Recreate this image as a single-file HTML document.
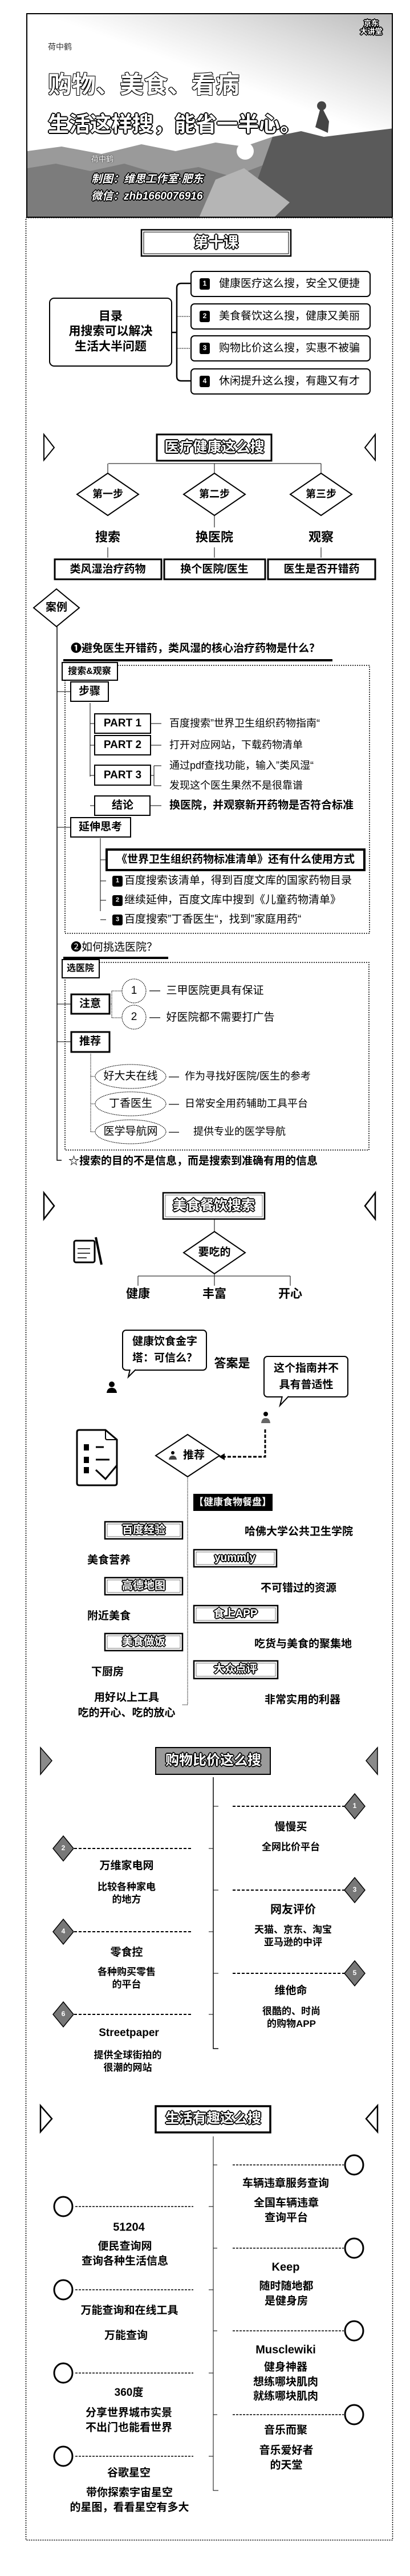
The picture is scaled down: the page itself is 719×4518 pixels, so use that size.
<!DOCTYPE html>
<html><head><meta charset="utf-8">
<style>
*{margin:0;padding:0;box-sizing:border-box}
body{width:719px;height:4518px;background:#fff;position:relative;overflow:hidden;font-family:"Liberation Sans","Noto Sans CJK SC",sans-serif;color:#000}
.c{position:absolute;transform:translate(-50%,-50%);white-space:nowrap;line-height:1.15;text-align:center}
.l{position:absolute;transform:translateY(-50%);white-space:nowrap;line-height:1.15}
.b{font-weight:bold}
.o{color:#fff;font-weight:bold;text-shadow:-1px -1px 0 #000,1px -1px 0 #000,-1px 1px 0 #000,1px 1px 0 #000,2px 0 0 #000,-2px 0 0 #000,0 2px 0 #000,0 -2px 0 #000}
.ob{color:#000;font-weight:bold;text-shadow:-1px -1px 0 #fff,1px -1px 0 #fff,-1px 1px 0 #fff,1px 1px 0 #fff}
svg{position:absolute;left:0;top:0}
</style></head><body>

<!-- banner -->
<div style="position:absolute;left:46px;top:23px;width:643px;height:359px;border:2px solid #000;overflow:hidden;background:linear-gradient(200deg,#bbb 0%,#ddd 18%,#fff 38%,#fff 100%)">
 <svg width="643" height="359" style="position:absolute;left:0;top:0">
  <polygon points="0,240 60,232 130,245 200,228 260,240 330,225 380,232 430,215 500,225 560,210 643,205 643,359 0,359" fill="#9a9a9a"/>
  <polygon points="0,270 50,262 110,275 170,262 230,280 300,268 360,285 420,262 643,250 643,359 0,359" fill="#7c7c7c"/>
  <polygon points="430,215 480,205 520,215 560,210 643,200 643,359 380,359 400,300" fill="#5a5a5a"/>
  <polygon points="330,290 380,270 420,300 460,330 430,359 300,359" fill="#b5b5b5"/>
  <circle cx="382" cy="240" r="15" fill="#fff"/>
  <path d="M505,198 l8,-30 a8,8 0 1,1 6,0 l10,20 l-2,20 z" fill="#444"/>
 </svg>
 <div class="l" style="left:36px;top:57px;font-size:14px;color:#333">荷中鹤</div>
 <div class="l" style="left:36px;top:124px;font-size:42px;font-weight:bold;color:#fff;text-shadow:-1px -1px 0 #000,1px 1px 0 #000,1px -1px 0 #000,-1px 1px 0 #000">购物、美食、看病</div>
 <div class="l o" style="left:36px;top:194px;font-size:37px">生活这样搜，能省一半心。</div>
 <div class="l" style="left:112px;top:255px;font-size:13px;color:#fff;text-shadow:0 0 2px #000">荷中鹤</div>
 <div class="l o" style="left:112px;top:290px;font-size:19px;font-style:italic">制图：维思工作室·肥东</div>
 <div class="l o" style="left:112px;top:320px;font-size:19px;font-style:italic">微信：zhb1660076916</div>
 <div class="c o" style="left:603px;top:24px;font-size:13px;line-height:1.1">京东<br>大讲堂</div>
</div>

<svg width="719" height="4518" fill="none" stroke="#000">
 <!-- frame -->
 <rect x="45.5" y="382" width="643" height="4073" stroke-width="1.5" stroke-dasharray="2,2"/>
 <!-- section1 -->
 <rect x="248" y="403" width="262" height="46" stroke-width="2.5"/>
 <rect x="252" y="407" width="254" height="38" stroke-width="1"/>
 <rect x="87" y="523" width="214" height="119" rx="8" stroke-width="2"/>
 <rect x="335" y="476" width="314" height="44" rx="6" stroke-width="2"/>
 <rect x="335" y="533" width="314" height="44" rx="6" stroke-width="2"/>
 <rect x="335" y="589" width="314" height="44" rx="6" stroke-width="2"/>
 <rect x="335" y="647" width="314" height="44" rx="6" stroke-width="2"/>
 <path d="M301,583 H310 M335,497 H318 Q310,497 310,505 V660 Q310,668 318,668 H335" stroke-width="2.5"/>
 <path d="M310,555 H335 M310,611 H335" stroke-width="1" stroke-dasharray="2,1"/>
 <g fill="#000" stroke="none">
  <rect x="350" y="488" width="18" height="20" rx="3"/><rect x="350" y="545" width="18" height="20" rx="3"/>
  <rect x="350" y="601" width="18" height="20" rx="3"/><rect x="350" y="659" width="18" height="20" rx="3"/>
 </g>
 <!-- section2 -->
 <path d="M77,762 L95,785 L77,807 Z M658,762 L640,785 L658,807 Z" stroke-width="2"/>
 <rect x="275" y="762" width="201" height="46" stroke-width="3"/>
 <path d="M190,813 H563 M189,813 V830 M376,813 V830 M563,813 V830" stroke-width="1"/>
 <polygon points="189,830 243,867 189,904 135,867" stroke-width="2"/>
 <polygon points="376,830 430,867 376,904 322,867" stroke-width="2"/>
 <polygon points="563,830 617,867 563,904 509,867" stroke-width="2"/>
 <path d="M376,904 V925 M189,960 V978 M376,960 V978 M563,960 V978" stroke-width="1"/>
 <rect x="96" y="981" width="187" height="35" stroke-width="3"/>
 <rect x="288" y="981" width="177" height="35" stroke-width="3"/>
 <rect x="470" y="981" width="188" height="35" stroke-width="3"/>
 <polygon points="99,1033 139,1066 99,1099 59,1066" stroke-width="2"/>
 <path d="M100,1099 V2035 H108" stroke-width="1.5"/>
 <rect x="111" y="1156" width="472" height="4" fill="#000" stroke="none"/>
 <rect x="114" y="1167" width="534" height="470" stroke-width="1.5" stroke-dasharray="2,2"/>
 <rect x="109" y="1162" width="97" height="31" fill="#fff" stroke-width="2"/>
 <path d="M100,1213 H124 M100,1451 H124" stroke-width="1"/>
 <rect x="124" y="1196" width="66" height="34" stroke-width="2"/>
 <path d="M158,1233 V1362 M158,1269 H166 M158,1307 H166 M158,1360 H166 M158,1413 H166" stroke-width="1"/>
 <rect x="166" y="1252" width="98" height="34" stroke-width="2"/>
 <rect x="166" y="1290" width="98" height="34" stroke-width="2"/>
 <rect x="166" y="1342" width="98" height="35" stroke-width="2"/>
 <rect x="166" y="1396" width="97" height="34" stroke-width="2"/>
 <path d="M264,1269 H283 M264,1307 H283 M264,1360 H270 M270,1343 V1378 M270,1343 H283 M270,1378 H283 M263,1413 H283" stroke-width="1"/>
 <rect x="124" y="1434" width="105" height="34" stroke-width="2"/>
 <path d="M176,1470 V1598 M176,1508 H187 M176,1545 H186 M176,1579 H186 M176,1613 H186" stroke-width="1"/>
 <rect x="187" y="1490" width="452" height="36" stroke-width="4"/>
 <g fill="#000" stroke="none">
  <rect x="197" y="1536" width="18" height="19" rx="3"/><rect x="197" y="1570" width="18" height="19" rx="3"/><rect x="197" y="1604" width="18" height="19" rx="3"/>
 </g>
 <rect x="111" y="1678" width="184" height="4" fill="#000" stroke="none"/>
 <rect x="114" y="1688" width="533" height="329" stroke-width="1.5" stroke-dasharray="2,2"/>
 <rect x="109" y="1683" width="65" height="32" fill="#fff" stroke-width="2"/>
 <rect x="125" y="1744" width="67" height="34" stroke-width="3"/>
 <rect x="125" y="1810" width="67" height="35" stroke-width="3"/>
 <path d="M100,1761 H125 M100,1827 H125" stroke-width="1"/>
 <path d="M192,1761 H196 M196,1738 V1785 M196,1738 H214 M196,1785 H214" stroke-width="1" stroke-dasharray="1.5,1"/>
 <ellipse cx="235" cy="1738" rx="21" ry="21" stroke-width="1" stroke-dasharray="2,1"/>
 <ellipse cx="235" cy="1784" rx="21" ry="21" stroke-width="1" stroke-dasharray="2,1"/>
 <path d="M159,1848 V1985 M159,1888 H167 M159,1936 H167 M159,1985 H167" stroke-width="1" stroke-dasharray="1.5,1"/>
 <ellipse cx="229" cy="1888" rx="62" ry="21" stroke-width="1" stroke-dasharray="2,1"/>
 <ellipse cx="229" cy="1936" rx="62" ry="21" stroke-width="1" stroke-dasharray="2,1"/>
 <ellipse cx="229" cy="1985" rx="62" ry="21" stroke-width="1" stroke-dasharray="2,1"/>
 <!-- section3 -->
 <path d="M77,2092 L95,2115 L77,2138 Z M658,2092 L640,2115 L658,2138 Z" stroke-width="2.5"/>
 <rect x="286" y="2092" width="178" height="46" stroke-width="2.5"/>
 <rect x="290" y="2096" width="170" height="38" stroke-width="1" stroke-dasharray="1,1"/>
 <path d="M376,2138 V2160 M376,2234 V2255 M242,2238 H509 M242,2238 V2255 M509,2238 V2255" stroke-width="1"/>
 <polygon points="376,2160 430,2197 376,2234 322,2197" stroke-width="2"/>
 <rect x="130" y="2176" width="36" height="38" rx="3" stroke-width="3"/>
 <path d="M136,2190 H158 M136,2198 H158 M136,2206 H152" stroke-width="1.5"/>
 <path d="M168,2170 L178,2218" stroke-width="4"/>
 <rect x="215" y="2333" width="147" height="70" rx="6" stroke-width="2" fill="#fff"/>
 <path d="M228,2402 L225,2415 L238,2402" stroke-width="2" fill="#fff"/>
 <rect x="463" y="2379" width="147" height="71" rx="6" stroke-width="2" fill="#fff"/>
 <path d="M495,2449 L491,2465 L506,2449" stroke-width="2" fill="#fff"/>
 <g fill="#000" stroke="none">
  <circle cx="196" cy="2428" r="5"/><path d="M187,2443 Q188,2434 196,2434 Q204,2434 205,2443 Z"/>
  <circle cx="466" cy="2480" r="4"/><path d="M458,2496 Q459,2487 466,2487 Q473,2487 474,2496 Z" fill="#666"/>
  <circle cx="303" cy="2548" r="3"/><path d="M296,2560 Q297,2553 303,2553 Q309,2553 310,2560 Z" fill="#444"/>
 </g>
 <path d="M465,2507 V2555 H392" stroke-width="3" stroke-dasharray="6,3"/>
 <polygon points="384,2555 394,2549 394,2561" fill="#000" stroke="none"/>
 <path d="M135,2512 Q135,2508 139,2508 H185 L205,2525 V2601 Q205,2605 201,2605 H139 Q135,2605 135,2601 Z" stroke-width="3"/>
 <path d="M185,2508 V2522 Q185,2525 188,2525 H205" stroke-width="2"/>
 <g fill="#000" stroke="none"><rect x="147" y="2533" width="9" height="11"/><rect x="147" y="2555" width="9" height="11"/><rect x="147" y="2573" width="9" height="11"/></g>
 <path d="M168,2538 H182 M168,2560 H192 M168,2578 L185,2594 L205,2570" stroke-width="3"/>
 <polygon points="329,2516 385,2553 329,2590 273,2553" stroke-width="2"/>
 <path d="M329,2590 V2990 H320" stroke-width="1" stroke-dasharray="1.5,1"/>
 <rect x="339" y="2620" width="139" height="30" fill="#000" stroke="none"/>
 <g stroke-width="2.5">
  <rect x="184" y="2669" width="136" height="30"/><rect x="184" y="2767" width="136" height="30"/><rect x="184" y="2865" width="136" height="30"/>
  <rect x="340" y="2718" width="145" height="30"/><rect x="340" y="2816" width="147" height="30"/><rect x="340" y="2913" width="147" height="31"/>
 </g>
 <g stroke-width="1" stroke-dasharray="1,1">
  <rect x="188" y="2673" width="128" height="22"/><rect x="188" y="2771" width="128" height="22"/><rect x="188" y="2869" width="128" height="22"/>
  <rect x="344" y="2722" width="137" height="22"/><rect x="344" y="2820" width="139" height="22"/><rect x="344" y="2917" width="139" height="23"/>
 </g>
 <!-- section4 -->
 <path d="M71,3065 L91,3088 L71,3112 Z M662,3065 L642,3088 L662,3112 Z" stroke-width="1.5" fill="#8a8a8a"/>
 <rect x="273" y="3065" width="201" height="47" stroke-width="2" fill="#9a9a9a"/>
 <path d="M374,3117 V3593 H383" stroke-width="1.5"/>
 <g stroke-width="2" stroke-dasharray="5,3">
  <path d="M408,3168 H604 M408,3315 H604 M408,3461 H604 M130,3242 H338 M130,3388 H338 M130,3533 H338"/>
 </g>
 <path d="M374,3168 H383 M374,3315 H383 M374,3461 H383 M366,3242 H374 M366,3388 H374 M366,3533 H374" stroke-width="1"/>
 <g stroke-width="1.5" fill="#777">
  <polygon points="622,3146 640,3168 622,3190 604,3168"/><polygon points="622,3293 640,3315 622,3337 604,3315"/><polygon points="622,3439 640,3461 622,3483 604,3461"/>
  <polygon points="111,3220 129,3242 111,3264 93,3242"/><polygon points="111,3366 129,3388 111,3410 93,3388"/><polygon points="111,3511 129,3533 111,3555 93,3533"/>
 </g>
 <!-- section5 -->
 <path d="M71,3693 L91,3716 L71,3739 Z M662,3693 L642,3716 L662,3739 Z" stroke-width="2.5"/>
 <rect x="273" y="3694" width="201" height="46" stroke-width="3.5"/>
 <path d="M374,3747 V4368 H383" stroke-width="1"/>
 <g stroke-width="1.5" stroke-dasharray="4,2">
  <path d="M408,3797 H603 M408,3943 H603 M408,4088 H603 M408,4235 H603 M132,3870 H339 M132,4016 H339 M132,4162 H339 M132,4308 H339"/>
 </g>
 <path d="M374,3797 H381 M374,3943 H381 M374,4088 H381 M374,4235 H381 M366,3870 H374 M366,4016 H374 M366,4162 H374 M366,4308 H374" stroke-width="1"/>
 <g stroke-width="3">
  <ellipse cx="621" cy="3797" rx="16" ry="17"/><ellipse cx="621" cy="3943" rx="16" ry="17"/><ellipse cx="621" cy="4088" rx="16" ry="17"/><ellipse cx="621" cy="4235" rx="16" ry="17"/>
  <ellipse cx="111" cy="3870" rx="16" ry="17"/><ellipse cx="111" cy="4016" rx="16" ry="17"/><ellipse cx="111" cy="4162" rx="16" ry="17"/><ellipse cx="111" cy="4308" rx="16" ry="17"/>
 </g>
</svg>

<!-- section1 text -->
<div class="c o" style="left:379px;top:426px;font-size:26px">第十课</div>
<div class="c b" style="left:194px;top:582px;font-size:21px;line-height:1.25">目录<br>用搜索可以解决<br>生活大半问题</div>
<div class="c b" style="left:359px;top:498px;font-size:12px;color:#fff">1</div>
<div class="c b" style="left:359px;top:555px;font-size:12px;color:#fff">2</div>
<div class="c b" style="left:359px;top:611px;font-size:12px;color:#fff">3</div>
<div class="c b" style="left:359px;top:669px;font-size:12px;color:#fff">4</div>
<div class="l" style="left:384px;top:498px;font-size:19px">健康医疗这么搜，安全又便捷</div>
<div class="l" style="left:384px;top:555px;font-size:19px">美食餐饮这么搜，健康又美丽</div>
<div class="l" style="left:384px;top:611px;font-size:19px">购物比价这么搜，实惠不被骗</div>
<div class="l" style="left:384px;top:669px;font-size:19px">休闲提升这么搜，有趣又有才</div>

<!-- section2 text -->
<div class="c o" style="left:376px;top:785px;font-size:25px">医疗健康这么搜</div>
<div class="c b" style="left:189px;top:867px;font-size:18px">第一步</div>
<div class="c b" style="left:376px;top:867px;font-size:18px">第二步</div>
<div class="c b" style="left:563px;top:867px;font-size:18px">第三步</div>
<div class="c b" style="left:189px;top:942px;font-size:22px">搜索</div>
<div class="c b" style="left:376px;top:942px;font-size:22px">换医院</div>
<div class="c b" style="left:563px;top:942px;font-size:22px">观察</div>
<div class="c b" style="left:189px;top:999px;font-size:19px">类风湿治疗药物</div>
<div class="c b" style="left:376px;top:999px;font-size:19px">换个医院/医生</div>
<div class="c b" style="left:564px;top:999px;font-size:19px">医生是否开错药</div>
<div class="c b" style="left:99px;top:1066px;font-size:19px">案例</div>
<div class="l b" style="left:124px;top:1138px;font-size:19px">❶避免医生开错药，类风湿的核心治疗药物是什么？</div>
<div class="c b" style="left:157px;top:1178px;font-size:16px">搜索&amp;观察</div>
<div class="c b" style="left:157px;top:1213px;font-size:19px">步骤</div>
<div class="c b" style="left:215px;top:1269px;font-size:19px">PART 1</div>
<div class="c b" style="left:215px;top:1307px;font-size:19px">PART 2</div>
<div class="c b" style="left:215px;top:1360px;font-size:19px">PART 3</div>
<div class="c b" style="left:215px;top:1413px;font-size:19px">结论</div>
<div class="l" style="left:297px;top:1269px;font-size:18px">百度搜索”世界卫生组织药物指南“</div>
<div class="l" style="left:297px;top:1307px;font-size:18px">打开对应网站，下载药物清单</div>
<div class="l" style="left:297px;top:1343px;font-size:18px">通过pdf查找功能，输入”类风湿“</div>
<div class="l" style="left:297px;top:1378px;font-size:18px">发现这个医生果然不是很靠谱</div>
<div class="l b" style="left:297px;top:1413px;font-size:19px">换医院，并观察新开药物是否符合标准</div>
<div class="c b" style="left:176px;top:1451px;font-size:19px">延伸思考</div>
<div class="c b" style="left:413px;top:1508px;font-size:19px">《世界卫生组织药物标准清单》还有什么使用方式</div>
<div class="c b" style="left:206px;top:1545px;font-size:11px;color:#fff">1</div>
<div class="c b" style="left:206px;top:1579px;font-size:11px;color:#fff">2</div>
<div class="c b" style="left:206px;top:1613px;font-size:11px;color:#fff">3</div>
<div class="l" style="left:218px;top:1545px;font-size:19px">百度搜索该清单，得到百度文库的国家药物目录</div>
<div class="l" style="left:218px;top:1579px;font-size:19px">继续延伸，百度文库中搜到《儿童药物清单》</div>
<div class="l" style="left:218px;top:1613px;font-size:19px">百度搜索”丁香医生“，找到”家庭用药“</div>
<div class="l" style="left:124px;top:1662px;font-size:19px">❷如何挑选医院？</div>
<div class="c b" style="left:141px;top:1699px;font-size:16px">选医院</div>
<div class="c b" style="left:158px;top:1761px;font-size:19px">注意</div>
<div class="c b" style="left:158px;top:1827px;font-size:19px">推荐</div>
<div class="c" style="left:235px;top:1738px;font-size:19px">1</div>
<div class="c" style="left:235px;top:1784px;font-size:19px">2</div>
<div class="l" style="left:262px;top:1738px;font-size:19px">—&nbsp;&nbsp;三甲医院更具有保证</div>
<div class="l" style="left:262px;top:1785px;font-size:19px">—&nbsp;&nbsp;好医院都不需要打广告</div>
<div class="c" style="left:229px;top:1888px;font-size:19px">好大夫在线</div>
<div class="c" style="left:229px;top:1936px;font-size:19px">丁香医生</div>
<div class="c" style="left:229px;top:1985px;font-size:19px">医学导航网</div>
<div class="l" style="left:296px;top:1888px;font-size:18px">—&nbsp;&nbsp;作为寻找好医院/医生的参考</div>
<div class="l" style="left:296px;top:1936px;font-size:18px">—&nbsp;&nbsp;日常安全用药辅助工具平台</div>
<div class="l" style="left:296px;top:1985px;font-size:18px">—&nbsp;&nbsp;&nbsp;&nbsp;&nbsp;提供专业的医学导航</div>
<div class="l b" style="left:120px;top:2037px;font-size:19px">☆搜索的目的不是信息，而是搜索到准确有用的信息</div>

<!-- section3 text -->
<div class="c o" style="left:375px;top:2115px;font-size:24px">美食餐饮搜索</div>
<div class="c b" style="left:376px;top:2197px;font-size:19px">要吃的</div>
<div class="c b" style="left:242px;top:2270px;font-size:21px">健康</div>
<div class="c b" style="left:376px;top:2270px;font-size:21px">丰富</div>
<div class="c b" style="left:509px;top:2270px;font-size:21px">开心</div>
<div class="c b" style="left:289px;top:2368px;font-size:19px;line-height:1.5">健康饮食金字<br>塔：可信么？</div>
<div class="c b" style="left:407px;top:2392px;font-size:21px">答案是</div>
<div class="c b" style="left:537px;top:2415px;font-size:19px;line-height:1.5">这个指南并不<br>具有普适性</div>
<div class="c b" style="left:340px;top:2553px;font-size:19px">推荐</div>
<div class="c o" style="left:408px;top:2635px;font-size:17px">【健康食物餐盘】</div>
<div class="c o" style="left:252px;top:2684px;font-size:19px">百度经验</div>
<div class="c o" style="left:252px;top:2782px;font-size:19px">高德地图</div>
<div class="c o" style="left:252px;top:2880px;font-size:19px">美食做饭</div>
<div class="c o" style="left:412px;top:2733px;font-size:19px">yummly</div>
<div class="c o" style="left:413px;top:2831px;font-size:19px">食上APP</div>
<div class="c o" style="left:413px;top:2928px;font-size:19px">大众点评</div>
<div class="l b" style="left:153px;top:2737px;font-size:19px">美食营养</div>
<div class="l b" style="left:153px;top:2835px;font-size:19px">附近美食</div>
<div class="l b" style="left:160px;top:2933px;font-size:19px">下厨房</div>
<div class="c b" style="left:222px;top:2978px;font-size:19px">用好以上工具</div>
<div class="c b" style="left:222px;top:3005px;font-size:19px">吃的开心、吃的放心</div>
<div class="l b" style="left:429px;top:2687px;font-size:19px">哈佛大学公共卫生学院</div>
<div class="l b" style="left:457px;top:2786px;font-size:19px">不可错过的资源</div>
<div class="l b" style="left:446px;top:2884px;font-size:19px">吃货与美食的聚集地</div>
<div class="l b" style="left:464px;top:2982px;font-size:19px">非常实用的利器</div>

<!-- section4 text -->
<div class="c o" style="left:374px;top:3088px;font-size:24px">购物比价这么搜</div>
<div class="c b" style="left:622px;top:3168px;font-size:12px;color:#fff">1</div>
<div class="c b" style="left:622px;top:3315px;font-size:12px;color:#fff">3</div>
<div class="c b" style="left:622px;top:3461px;font-size:12px;color:#fff">5</div>
<div class="c b" style="left:111px;top:3242px;font-size:12px;color:#fff">2</div>
<div class="c b" style="left:111px;top:3388px;font-size:12px;color:#fff">4</div>
<div class="c b" style="left:111px;top:3533px;font-size:12px;color:#fff">6</div>
<div class="c b" style="left:510px;top:3205px;font-size:19px">慢慢买</div>
<div class="c b" style="left:510px;top:3240px;font-size:17px">全网比价平台</div>
<div class="c b" style="left:514px;top:3350px;font-size:20px">网友评价</div>
<div class="c b" style="left:514px;top:3396px;font-size:17px;line-height:1.3">天猫、京东、淘宝<br>亚马逊的中评</div>
<div class="c b" style="left:510px;top:3492px;font-size:19px">维他命</div>
<div class="c b" style="left:511px;top:3539px;font-size:17px;line-height:1.3">很酷的、时尚<br>的购物APP</div>
<div class="c b" style="left:222px;top:3273px;font-size:19px">万维家电网</div>
<div class="c b" style="left:222px;top:3321px;font-size:17px;line-height:1.3">比较各种家电<br>的地方</div>
<div class="c b" style="left:222px;top:3425px;font-size:19px">零食控</div>
<div class="c b" style="left:222px;top:3470px;font-size:17px;line-height:1.3">各种购买零售<br>的平台</div>
<div class="c b" style="left:226px;top:3566px;font-size:19px">Streetpaper</div>
<div class="c b" style="left:224px;top:3616px;font-size:17px;line-height:1.3">提供全球街拍的<br>很潮的网站</div>

<!-- section5 text -->
<div class="c o" style="left:374px;top:3716px;font-size:24px">生活有趣这么搜</div>
<div class="c b" style="left:501px;top:3830px;font-size:19px">车辆违章服务查询</div>
<div class="c b" style="left:502px;top:3877px;font-size:19px;line-height:1.35">全国车辆违章<br>查询平台</div>
<div class="c b" style="left:501px;top:3977px;font-size:20px">Keep</div>
<div class="c b" style="left:502px;top:4023px;font-size:19px;line-height:1.35">随时随地都<br>是健身房</div>
<div class="c b" style="left:501px;top:4122px;font-size:20px">Musclewiki</div>
<div class="c b" style="left:501px;top:4178px;font-size:19px;line-height:1.35">健身神器<br>想练哪块肌肉<br>就练哪块肌肉</div>
<div class="c b" style="left:501px;top:4263px;font-size:19px">音乐而聚</div>
<div class="c b" style="left:502px;top:4311px;font-size:19px;line-height:1.35">音乐爱好者<br>的天堂</div>
<div class="c b" style="left:226px;top:3907px;font-size:20px">51204</div>
<div class="c b" style="left:219px;top:3953px;font-size:19px;line-height:1.35">便民查询网<br>查询各种生活信息</div>
<div class="c b" style="left:227px;top:4053px;font-size:19px">万能查询和在线工具</div>
<div class="c b" style="left:221px;top:4097px;font-size:19px">万能查询</div>
<div class="c b" style="left:226px;top:4197px;font-size:19px">360度</div>
<div class="c b" style="left:226px;top:4245px;font-size:19px;line-height:1.35">分享世界城市实景<br>不出门也能看世界</div>
<div class="c b" style="left:226px;top:4338px;font-size:19px">谷歌星空</div>
<div class="c b" style="left:227px;top:4385px;font-size:19px;line-height:1.35">带你探索宇宙星空<br>的星图，看看星空有多大</div>
</body></html>
